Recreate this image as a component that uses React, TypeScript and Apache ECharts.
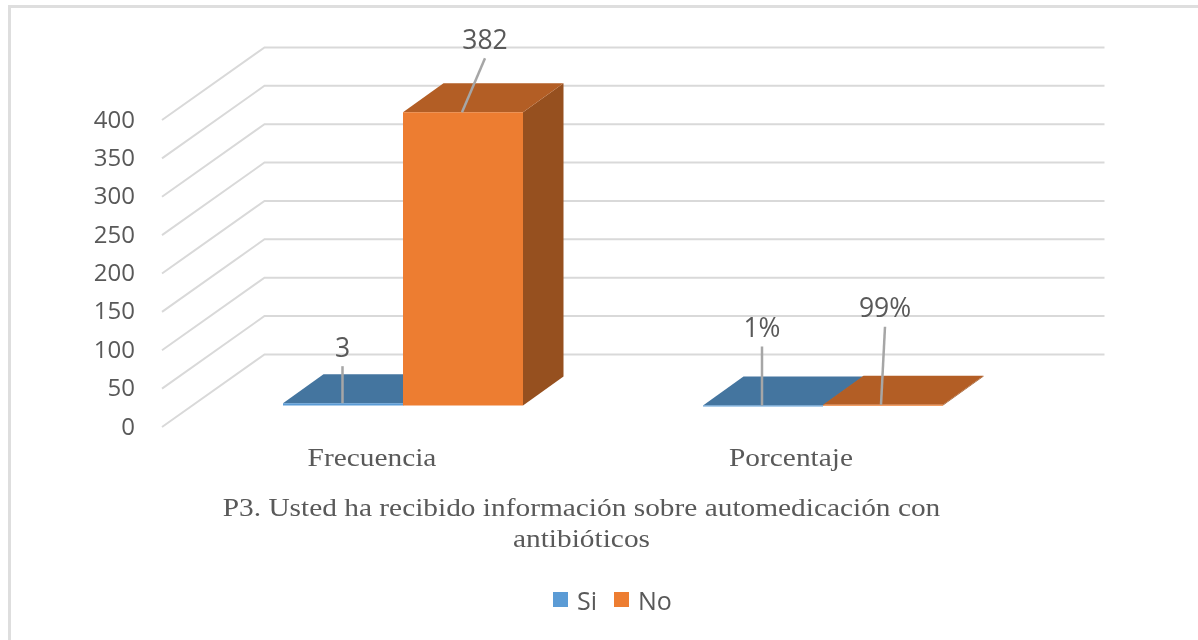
import React, { useEffect, useRef } from "react";
import * as echarts from "echarts";

const categories = ["Frecuencia", "Porcentaje"];
const siValues = [3, 0.01];
const noValues = [382, 0.99];
const siLabels = ["3", "1%"];
const noLabels = ["382", "99%"];
const yTicks = [0, 50, 100, 150, 200, 250, 300, 350, 400];
const titleText = "P3. Usted ha recibido información sobre automedicación con\nantibióticos";

const COLORS = {
  si: "#5b9bd5", siTop: "#44759f", siSide: "#3a6690",
  no: "#ed7d31", noTop: "#b35e25", noSide: "#96501f",
  grid: "#d9d9d9", text: "#595959", leader: "#a6a6a6",
};
const WALL_DX = 102.5;
const WALL_DY = 72.6;
const BAR_SHIFT_X = 31;
const BAR_SHIFT_Y = 21.5;
const DEPTH_X = 40.5;
const DEPTH_Y = 29;
const BAR_FRACTION = 2 / 7;
const SERIF_STRETCH = 1.175;

// leader line: [start dx from bar centre, end dx, end dy above bar top]
const leaders: Record<string, number[][]> = {
  Si: [[-0.5, -0.5, 37], [-1, -1, 59]],
  No: [[-1, 22, 54], [-2, 2, 78]],
};

function barRender(side: number, labels: string[], name: string, c: string, top: string, sd: string) {
  return (params: any, api: any) => {
    const i = api.value(0);
    const v = api.value(1);
    const bw = api.size([1, 0])[0] * BAR_FRACTION;
    const p1 = api.coord([i, v]);
    const p0 = api.coord([i, 0]);
    const cx = p1[0] + BAR_SHIFT_X + (side * bw) / 2;
    const l = cx - bw / 2;
    const r = cx + bw / 2;
    const yt = p1[1] - BAR_SHIFT_Y;
    const yb = p0[1] - BAR_SHIFT_Y;
    const [d0, d1, d2] = leaders[name][params.dataIndex];
    const ly = yt - d2;
    return {
      type: "group",
      children: [
        { type: "polygon", shape: { points: [[r, yt], [r + DEPTH_X, yt - DEPTH_Y], [r + DEPTH_X, yb - DEPTH_Y], [r, yb]] }, style: { fill: sd } },
        { type: "polygon", shape: { points: [[l, yt], [l + DEPTH_X, yt - DEPTH_Y], [r + DEPTH_X, yt - DEPTH_Y], [r, yt]] }, style: { fill: top } },
        { type: "rect", shape: { x: l, y: yt, width: bw, height: Math.max(yb - yt, 1) }, style: { fill: c } },
        { type: "line", shape: { x1: cx + d0, y1: yt, x2: cx + d1, y2: ly }, style: { stroke: COLORS.leader, lineWidth: 2.5 } },
        { type: "text", x: cx + d1, y: ly - 6, style: { text: labels[params.dataIndex], fill: COLORS.text, font: '26.5px "Open Sans"', textAlign: "center", textVerticalAlign: "bottom" } },
      ],
    };
  };
}

function wallRender(params: any, api: any) {
  const v = api.value(1);
  const y = api.coord([0, v])[1];
  const cs = params.coordSys;
  return {
    type: "polyline",
    shape: { points: [[cs.x, y], [cs.x + WALL_DX, y - WALL_DY], [cs.x + cs.width + WALL_DX, y - WALL_DY]] },
    style: { stroke: COLORS.grid, lineWidth: 2, fill: "none" },
  };
}

function categoryLabelRender(params: any, api: any) {
  const p = api.coord([api.value(0), 0]);
  return {
    type: "text",
    x: p[0] - params.dataIndex,
    y: p[1] + 31,
    scaleX: SERIF_STRETCH,
    style: { text: categories[params.dataIndex], fill: COLORS.text, font: '25px "Liberation Serif"', textAlign: "center", textVerticalAlign: "middle" },
  };
}

export default function App() {
  const ref = useRef<HTMLDivElement>(null);
  useEffect(() => {
    document.body.style.margin = "0";
    const chart = echarts.init(ref.current!, undefined, { renderer: "svg" });
    chart.setOption({
      animation: false,
      backgroundColor: "#ffffff",
      grid: { left: 162, width: 840, top: 120, height: 307 },
      legend: {
        data: ["Si", "No"],
        left: 548,
        top: 582,
        icon: "rect",
        itemWidth: 15,
        itemHeight: 15,
        itemGap: 17,
        textStyle: { color: COLORS.text, fontFamily: "Open Sans", fontSize: 25, padding: [0, 0, 0, 4] },
      },
      graphic: [
        { type: "rect", shape: { x: 8, y: 5, width: 1190, height: 3 }, style: { fill: "#dedede" } },
        { type: "rect", shape: { x: 8, y: 5, width: 3, height: 635 }, style: { fill: "#dedede" } },
        {
          type: "text",
          x: 581.5,
          y: 492,
          scaleX: SERIF_STRETCH,
          style: { text: titleText, fill: COLORS.text, font: '25px "Liberation Serif"', textAlign: "center", lineHeight: 31 },
        },
      ],
      xAxis: {
        type: "category",
        data: categories,
        axisLine: { show: false },
        axisTick: { show: false },
        axisLabel: { show: false },
      },
      yAxis: {
        type: "value",
        min: 0,
        max: 400,
        interval: 50,
        axisLine: { show: false },
        axisTick: { show: false },
        splitLine: { show: false },
        axisLabel: { color: COLORS.text, fontFamily: "Open Sans", fontSize: 24, margin: 27, verticalAlign: "bottom", lineHeight: 24, padding: [0, 0, -10, 0] },
      },
      series: [
        { type: "custom", name: "wall", silent: true, data: yTicks.map((t) => [0, t]), encode: { x: 0, y: 1 }, renderItem: wallRender, z: 1 },
        { type: "custom", name: "categoryLabels", silent: true, data: categories.map((_, i) => [i, 0]), encode: { x: 0, y: 1 }, renderItem: categoryLabelRender, z: 1 },
        { type: "custom", name: "Si", itemStyle: { color: COLORS.si }, data: siValues.map((v, i) => [i, v]), encode: { x: 0, y: 1 }, renderItem: barRender(-1, siLabels, "Si", COLORS.si, COLORS.siTop, COLORS.siSide), z: 2 },
        { type: "custom", name: "No", itemStyle: { color: COLORS.no }, data: noValues.map((v, i) => [i, v]), encode: { x: 0, y: 1 }, renderItem: barRender(1, noLabels, "No", COLORS.no, COLORS.noTop, COLORS.noSide), z: 3 },
      ],
    });
    return () => chart.dispose();
  }, []);
  return <div ref={ref} style={{ width: 1198, height: 640, filter: "blur(0.5px)" }} />;
}
